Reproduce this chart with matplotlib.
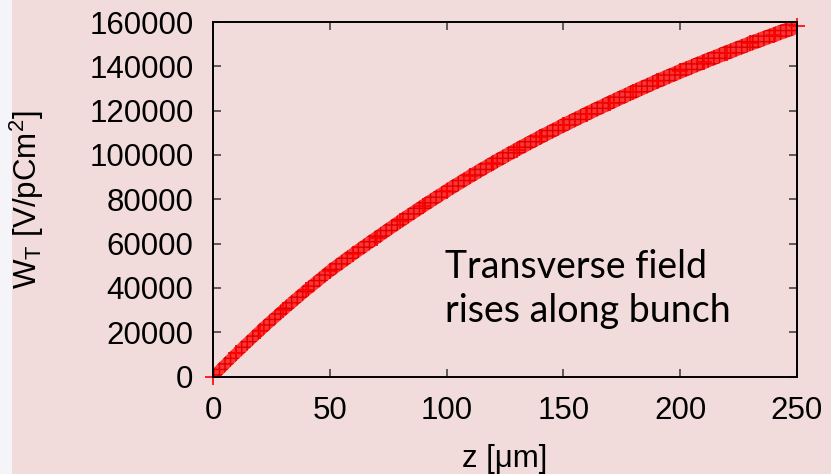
import matplotlib.pyplot as plt
from matplotlib.patches import Rectangle
import numpy as np

# transverse wake
z_um = [0, 10, 20, 30, 40, 50, 60, 70, 80, 90, 100, 110, 120, 130, 140,
        150, 160, 170, 180, 190, 200, 210, 220, 230, 240, 250]
w_t = [0, 10500, 20500, 30000, 39000, 47600, 55300, 62700, 70000, 77000,
       83800, 90300, 96500, 102400, 108000, 113400, 118600, 123600, 128500,
       133200, 137700, 142000, 146200, 150300, 154200, 158000]

x_ticks = [0, 50, 100, 150, 200, 250]
y_ticks = [0, 20000, 40000, 60000, 80000, 100000, 120000, 140000, 160000]

pink = '#f2dcdb'

fig = plt.figure(figsize=(8.31, 4.74), dpi=100)
fig.patch.set_facecolor('#f5f4f9')
fig.patches.append(Rectangle((12 / 831, 0), 1, 1, transform=fig.transFigure,
                             facecolor=pink, edgecolor='none', zorder=-10))

ax = fig.add_axes([213 / 831, 1 - 376.5 / 474, 584 / 831, 354.5 / 474])
ax.set_facecolor(pink)

# band of overlapping + markers: a filled band with cross hatching, plus the points
z = np.array(z_um)
w = np.array(w_t)
half = 3500
plt.rcParams['hatch.linewidth'] = 1.0
plt.rcParams['hatch.color'] = '#e00000'
ax.fill_between(z, w - half, w + half, facecolor='#ff2a2a', edgecolor='none',
                hatch='+++', alpha=0.95, zorder=2)
ax.plot(z, w, color='red', lw=0, marker='+', ms=11.5, mew=1.2, clip_on=False, zorder=3)

ax.set_xlim(0, 250)
ax.set_ylim(0, 160000)
ax.set_xticks(x_ticks)
ax.set_yticks(y_ticks)

tick_font = {'family': 'Liberation Sans', 'size': 22.5}
ax.set_xticklabels([str(t) for t in x_ticks], fontdict=tick_font)
ax.set_yticklabels([str(t) for t in y_ticks], fontdict=tick_font)
ax.tick_params(direction='in', length=6, width=1.2, color='#444444',
               top=True, right=True, pad=14)

for s in ax.spines.values():
    s.set_linewidth(1.4)
    s.set_color('black')
    s.set_zorder(4)

ax.set_xlabel('z [\u03bcm]', fontdict=tick_font)
ax.set_ylabel(r'W$_\mathregular{T}$ [V/pCm$^\mathregular{2}$]', fontdict=tick_font)
ax.xaxis.set_label_coords(0.5, -0.19)
ax.yaxis.set_label_coords(-0.286, 0.5)

ax.text(0.397, 0.155, 'Transverse field\nrises along bunch', transform=ax.transAxes,
        family='Lato', fontsize=27, va='baseline', ha='left', linespacing=1.25)

fig.savefig('out.png', dpi=100, facecolor=fig.get_facecolor())
